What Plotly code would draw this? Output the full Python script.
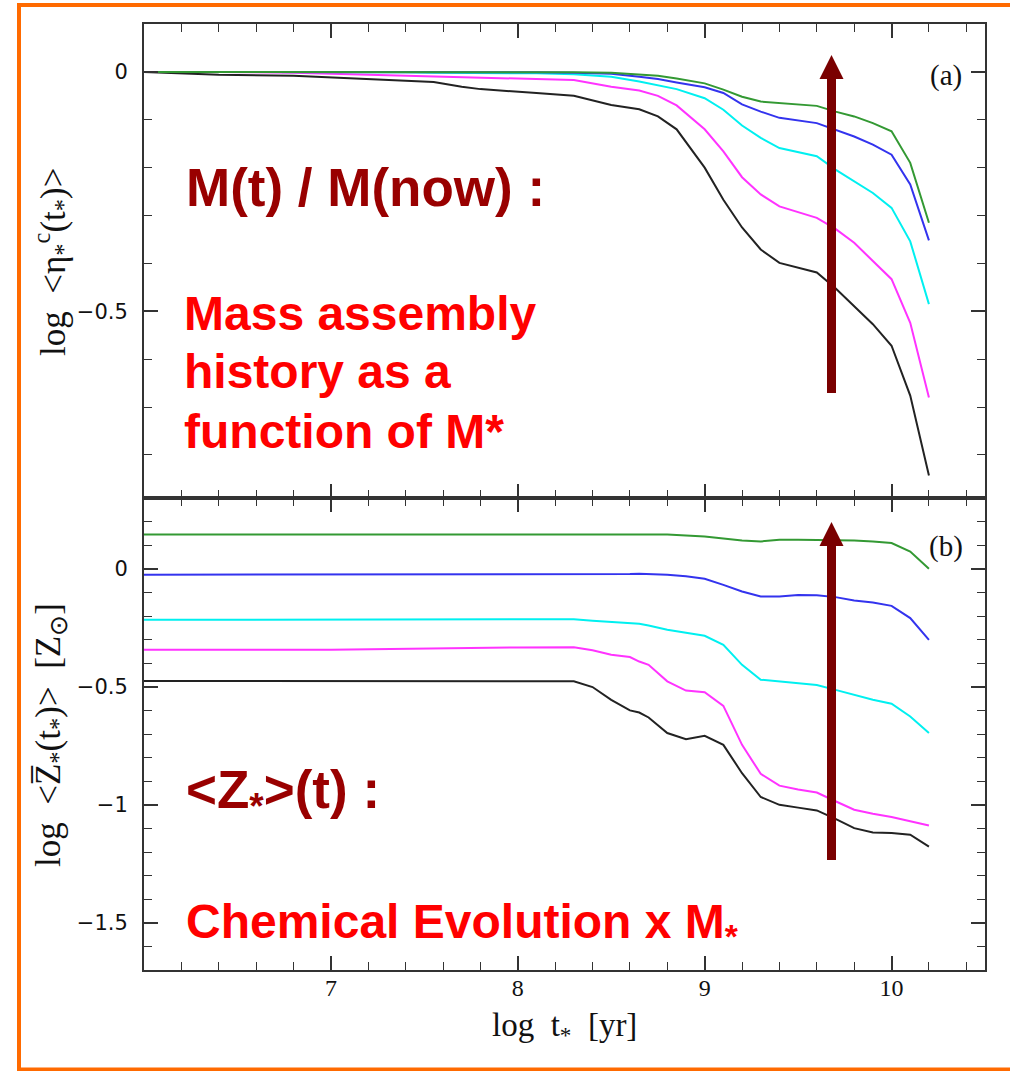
import plotly.graph_objects as go

# ---------------- data ----------------
# panel (a): log <eta*c(t*)>
log_t_a = [6.0, 6.4, 6.8, 7.1, 7.4, 7.55, 7.7, 7.8, 8.1, 8.3, 8.5, 8.65, 8.75, 8.85,
           9.0, 9.1, 9.2, 9.3, 9.4, 9.6, 9.7, 9.8, 9.9, 10.0, 10.1, 10.2]
eta_black = [0, -0.006, -0.008, -0.013, -0.017, -0.021, -0.031, -0.036, -0.044, -0.050,
             -0.069, -0.078, -0.093, -0.120, -0.200, -0.267, -0.325, -0.371, -0.399,
             -0.419, -0.452, -0.489, -0.527, -0.572, -0.676, -0.843]
eta_magenta = [0, 0, -0.002, -0.005, -0.009, -0.010, -0.012, -0.013, -0.015, -0.017,
               -0.031, -0.039, -0.050, -0.070, -0.120, -0.166, -0.220, -0.256, -0.281,
               -0.305, -0.328, -0.357, -0.395, -0.433, -0.524, -0.680]
eta_cyan = [0, 0, 0, 0, -0.001, -0.002, -0.002, -0.003, -0.003, -0.005, -0.010, -0.020,
            -0.028, -0.036, -0.055, -0.079, -0.112, -0.138, -0.159, -0.176, -0.204,
            -0.229, -0.253, -0.284, -0.354, -0.485]
eta_blue = [0, 0, 0, 0, 0, 0, 0, -0.001, -0.001, -0.002, -0.004, -0.010, -0.015, -0.022,
            -0.032, -0.044, -0.068, -0.083, -0.096, -0.107, -0.121, -0.135, -0.152,
            -0.173, -0.235, -0.352]
eta_green = [0, 0, 0, 0, 0, 0, 0, 0, 0, -0.001, -0.002, -0.005, -0.008, -0.014, -0.024,
             -0.037, -0.052, -0.062, -0.065, -0.071, -0.083, -0.093, -0.107, -0.124,
             -0.190, -0.315]

# panel (b): log <Z*(t*)> [Zsun]
log_t_b = [6.0, 7.0, 8.0, 8.3, 8.4, 8.5, 8.6, 8.65, 8.7, 8.8, 8.9, 9.0, 9.1, 9.2, 9.3,
           9.4, 9.5, 9.6, 9.7, 9.8, 9.9, 10.0, 10.1, 10.2]
z_black = [-0.475, -0.475, -0.477, -0.477, -0.501, -0.555, -0.600, -0.609, -0.630, -0.696,
           -0.722, -0.708, -0.746, -0.866, -0.967, -1.000, -1.012, -1.024, -1.060, -1.099,
           -1.117, -1.120, -1.127, -1.177]
z_magenta = [-0.343, -0.343, -0.333, -0.332, -0.345, -0.364, -0.374, -0.393, -0.407, -0.477,
             -0.516, -0.523, -0.581, -0.746, -0.869, -0.919, -0.935, -0.948, -0.985,
             -1.021, -1.038, -1.052, -1.070, -1.088]
z_cyan = [-0.216, -0.216, -0.214, -0.214, -0.220, -0.225, -0.230, -0.233, -0.240, -0.258,
          -0.271, -0.284, -0.322, -0.407, -0.470, -0.477, -0.485, -0.492, -0.513, -0.534,
          -0.555, -0.572, -0.626, -0.696]
z_blue = [-0.025, -0.025, -0.023, -0.023, -0.023, -0.022, -0.022, -0.021, -0.022, -0.025,
          -0.032, -0.042, -0.068, -0.096, -0.117, -0.117, -0.111, -0.112, -0.120, -0.134,
          -0.143, -0.157, -0.209, -0.301]
z_green = [0.145, 0.145, 0.146, 0.147, 0.147, 0.147, 0.147, 0.147, 0.147, 0.145, 0.141,
           0.137, 0.128, 0.120, 0.116, 0.123, 0.123, 0.123, 0.122, 0.120, 0.116, 0.109,
           0.073, 0.0]

x_ticks = [7, 8, 9, 10]

series_a = [("black", "#222222", eta_black), ("magenta", "#ff33ff", eta_magenta),
            ("cyan", "#00f0f0", eta_cyan), ("blue", "#3333ee", eta_blue),
            ("green", "#339933", eta_green)]
series_b = [("black", "#222222", z_black), ("magenta", "#ff33ff", z_magenta),
            ("cyan", "#00f0f0", z_cyan), ("blue", "#3333ee", z_blue),
            ("green", "#339933", z_green)]

# ---------------- layout geometry ----------------
W, H = 1010, 1071
L, R, T, B = 144, 25, 24, 101
PW, PH = W - L - R, H - T - B


def pxx(x):
    return (x - L) / PW


def pyy(y):
    return (H - B - y) / PH


SPLIT = pyy(498)

fig = go.Figure()
for name, col, ys in series_a:
    fig.add_trace(go.Scatter(x=log_t_a, y=ys, mode="lines", name=name,
                             line=dict(color=col, width=2),
                             xaxis="x", yaxis="y", showlegend=False))
for name, col, ys in series_b:
    fig.add_trace(go.Scatter(x=log_t_b, y=ys, mode="lines", name=name,
                             line=dict(color=col, width=2),
                             xaxis="x2", yaxis="y2", showlegend=False))

AX = "#333333"
common_x = dict(range=[6, 10.5], tickvals=x_ticks, ticks="inside", ticklen=14,
                tickwidth=1.5, tickcolor=AX, minor=dict(dtick=0.2, tick0=6, ticks="inside",
                                                        ticklen=8, tickwidth=1.3, tickcolor=AX),
                showline=True, linecolor=AX, linewidth=2, mirror="allticks",
                showgrid=False, zeroline=False,
                tickfont=dict(family="Liberation Serif", size=24, color="#111"))
common_y = dict(ticks="inside", ticklen=14, tickwidth=1.5, tickcolor=AX, dtick=0.5, tick0=0,
                minor=dict(dtick=0.1, ticks="inside", ticklen=8, tickwidth=1.3, tickcolor=AX),
                showline=True, linecolor=AX, linewidth=2, mirror="allticks",
                showgrid=False, zeroline=False, ticklabelstandoff=10,
                tickfont=dict(family="DejaVu Sans", size=21, color="#111"))

fig.update_layout(
    width=W, height=H, margin=dict(l=L, r=R, t=T, b=B),
    paper_bgcolor="white", plot_bgcolor="white",
    xaxis=dict(domain=[0, 1], anchor="y", showticklabels=False, **common_x),
    xaxis2=dict(domain=[0, 1], anchor="y2", showticklabels=True, ticklabelstandoff=-5,
                **common_x),
    yaxis=dict(domain=[SPLIT, 1], anchor="x", range=[-0.89, 0.1], **common_y),
    yaxis2=dict(domain=[0, SPLIT], anchor="x2", range=[-1.7, 0.3], **common_y),
    hovermode=False,
)

ann = []
# axis titles
ann.append(dict(text="log  t<sub>*</sub>  [yr]", x=pxx(564), y=pyy(1027), xref="paper",
                yref="paper", showarrow=False, xanchor="center", yanchor="middle",
                font=dict(family="Liberation Serif", size=33, color="#111")))
ann.append(dict(text="log  &lt;η<sub>*</sub><sup>c</sup>(t<sub>*</sub>)&gt;", x=pxx(52),
                y=pyy(262), xref="paper", yref="paper", showarrow=False, textangle=-90,
                xanchor="center", yanchor="middle",
                font=dict(family="Liberation Serif", size=35, color="#111")))
ann.append(dict(text="log  &lt;Z\u0305<sub>*</sub>(t<sub>*</sub>)&gt;  [Z<sub>⊙</sub>]",
                x=pxx(50), y=pyy(735), xref="paper", yref="paper", showarrow=False,
                textangle=-90, xanchor="center", yanchor="middle",
                font=dict(family="Liberation Serif", size=35, color="#111")))
# panel labels
ann.append(dict(text="(a)", x=pxx(946), y=pyy(75), xref="paper", yref="paper",
                showarrow=False, xanchor="center", yanchor="middle",
                font=dict(family="Liberation Serif", size=29, color="#111")))
ann.append(dict(text="(b)", x=pxx(946), y=pyy(547), xref="paper", yref="paper",
                showarrow=False, xanchor="center", yanchor="middle",
                font=dict(family="Liberation Serif", size=29, color="#111")))

DARK = "#990000"
RED = "#ff0000"
SANS = "Liberation Sans"
ann.append(dict(text="<b>M(t) / M(now) :</b>", x=pxx(184), y=pyy(188), xref="paper",
                yref="paper", showarrow=False, xanchor="left", yanchor="middle",
                font=dict(family=SANS, size=53, color=DARK)))
for txt, yc in [("Mass assembly", 313), ("history as a", 372), ("function of M*", 431)]:
    ann.append(dict(text="<b>" + txt + "</b>", x=pxx(182), y=pyy(yc), xref="paper",
                    yref="paper", showarrow=False, xanchor="left", yanchor="middle",
                    font=dict(family=SANS, size=48, color=RED)))
ann.append(dict(text="<b>&lt;Z<sub>*</sub>&gt;(t) :</b>", x=pxx(184), y=pyy(793),
                xref="paper", yref="paper", showarrow=False, xanchor="left",
                yanchor="middle", font=dict(family=SANS, size=53, color=DARK)))
ann.append(dict(text="<b>Chemical Evolution x M<sub>*</sub></b>", x=pxx(184), y=pyy(925),
                xref="paper", yref="paper", showarrow=False, xanchor="left",
                yanchor="middle", font=dict(family=SANS, size=48, color=RED)))
fig.update_layout(annotations=ann)

# arrows and frame
ARROW = "#7a0000"
shapes = []
for tip, tail in [(55, 393), (522, 860)]:
    xc = 831.5
    head_h, half_w, shaft_hw = 24, 12, 4.5
    shapes.append(dict(type="rect", xref="paper", yref="paper",
                       x0=pxx(xc - shaft_hw), x1=pxx(xc + shaft_hw),
                       y0=pyy(tail), y1=pyy(tip + head_h - 1),
                       fillcolor=ARROW, line=dict(width=0), layer="above"))
    path = "M {:.5f},{:.5f} L {:.5f},{:.5f} L {:.5f},{:.5f} Z".format(
        pxx(xc - half_w), pyy(tip + head_h), pxx(xc + half_w), pyy(tip + head_h),
        pxx(xc), pyy(tip))
    shapes.append(dict(type="path", xref="paper", yref="paper", path=path,
                       fillcolor=ARROW, line=dict(width=0), layer="above"))
shapes.append(dict(type="rect", xref="paper", yref="paper", x0=pxx(19), x1=pxx(1014),
                   y0=pyy(1069.5), y1=pyy(5), line=dict(color="#ff6a00", width=4),
                   fillcolor="rgba(0,0,0,0)", layer="above"))
fig.update_layout(shapes=shapes)

fig.write_html("out.html")
